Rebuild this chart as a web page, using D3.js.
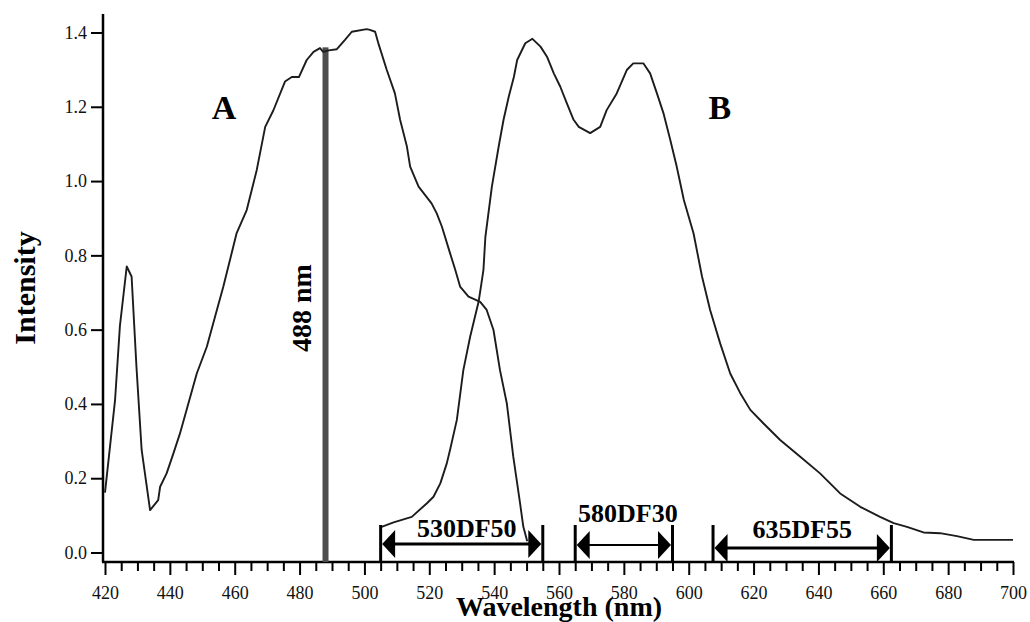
<!DOCTYPE html>
<html>
<head>
<meta charset="utf-8">
<script src="https://cdn.jsdelivr.net/npm/d3@7"></script>
<style>
  body { margin: 0; background: #fff; }
  svg { display: block; font-family: "Liberation Serif", "Times New Roman", serif; }
</style>
</head>
<body>
<div id="wrapper"></div>
<script>
// excitation spectrum (curve A)
const excitationWavelength = [420, 423.1, 424.6, 426.7, 428.2, 429.7, 431.3, 433.9, 436.4, 437, 439, 441.1, 443.1, 448.3, 451.4, 454.5, 456.5, 460.6, 463.7, 466.8, 469.4, 471.9, 475.5, 477.6, 479.8, 482.2, 484.3, 486.3, 487.3, 489, 491.5, 494, 496.1, 500.7, 501.7, 503.3, 504.4, 506.9, 509.4, 511, 513.1, 514.1, 516.7, 520.7, 522.3, 523.9, 526.4, 528, 529.5, 532.1, 535.7, 537.7, 539.8, 541.8, 543.9, 545.9, 548, 549, 550.2]
const excitationIntensity = [0.161, 0.41, 0.61, 0.77, 0.743, 0.5, 0.276, 0.114, 0.141, 0.177, 0.213, 0.267, 0.32, 0.482, 0.554, 0.653, 0.716, 0.86, 0.922, 1.03, 1.146, 1.19, 1.268, 1.28, 1.28, 1.326, 1.348, 1.358, 1.348, 1.352, 1.355, 1.38, 1.402, 1.409, 1.407, 1.402, 1.368, 1.299, 1.236, 1.165, 1.093, 1.039, 0.985, 0.94, 0.913, 0.877, 0.806, 0.761, 0.716, 0.689, 0.675, 0.653, 0.599, 0.491, 0.402, 0.258, 0.132, 0.069, 0.03]

// emission spectrum (curve B)
const emissionWavelength = [505.3, 509, 514.6, 519.2, 521.3, 523.4, 525.4, 526.5, 528.5, 530.5, 532.6, 535.2, 536, 536.7, 537.3, 539.3, 541.4, 542.9, 544.5, 546.1, 547.1, 549.6, 551.8, 554.3, 556.3, 558.4, 560.4, 562.4, 564.5, 566.1, 569.6, 572.7, 574.7, 577.8, 580.9, 582.9, 586, 588.1, 590.2, 592.2, 594.3, 596.3, 597.4, 598.5, 601.5, 604.1, 606.6, 609.7, 612.8, 615.9, 619, 623, 628.2, 634.4, 640.5, 646.7, 652.9, 659, 663.2, 667.3, 672.4, 677.5, 682.7, 687.9, 700]
const emissionIntensity = [0.069, 0.081, 0.096, 0.132, 0.15, 0.186, 0.24, 0.28, 0.357, 0.491, 0.581, 0.675, 0.72, 0.761, 0.85, 0.985, 1.093, 1.165, 1.227, 1.281, 1.326, 1.371, 1.383, 1.362, 1.335, 1.29, 1.254, 1.21, 1.165, 1.146, 1.129, 1.146, 1.191, 1.236, 1.299, 1.317, 1.317, 1.29, 1.236, 1.183, 1.111, 1.039, 0.994, 0.949, 0.859, 0.743, 0.653, 0.563, 0.482, 0.429, 0.384, 0.348, 0.303, 0.258, 0.213, 0.159, 0.123, 0.096, 0.079, 0.069, 0.054, 0.052, 0.044, 0.034, 0.034]

// laser line + filter bands
const laserWavelength = 488
const laserIntensity = 1.36
const laserLabel = "488 nm"
const filterNames = ["530DF50", "580DF30", "635DF55"]
const filterCenters = [530, 580, 635]
const filterWidths = [50, 30, 55]

// axis ticks
const xMajorTicks = [420, 440, 460, 480, 500, 520, 540, 560, 580, 600, 620, 640, 660, 680, 700]
const yTicks = [0.0, 0.2, 0.4, 0.6, 0.8, 1.0, 1.2, 1.4]

function drawChart(){

    // 1. data
    const excitation = excitationWavelength.map((w, i) => ({ w: w, v: excitationIntensity[i] }))
    const emission = emissionWavelength.map((w, i) => ({ w: w, v: emissionIntensity[i] }))
    const xMinorTicks = d3.range(420, 701, 5).filter(t => t % 20 != 0)

    const xAccessor = d => d.w
    const yAccessor = d => d.v

    // 2. dimensions
    let dimensions = {
        width: 1030,
        height: 622,
        margin: { top: 32.5, right: 17, bottom: 69.5, left: 105 },
    }
    dimensions.boundedWidth = dimensions.width - dimensions.margin.left - dimensions.margin.right
    dimensions.boundedHeight = dimensions.height - dimensions.margin.top - dimensions.margin.bottom
    const axisY = dimensions.boundedHeight + 9.5   // x axis sits a bit under zero
    const axisX = -2

    // 3. canvas
    const wrapper = d3.select("#wrapper")
      .append("svg")
        .attr("width", dimensions.width)
        .attr("height", dimensions.height)

    const bounds = wrapper.append("g")
        .attr("transform", `translate(${dimensions.margin.left},${dimensions.margin.top})`)

    // 4. scales
    const xScale = d3.scaleLinear()
        .domain([420, 700])
        .range([0, dimensions.boundedWidth])

    const yScale = d3.scaleLinear()
        .domain([0, 1.4])
        .range([dimensions.boundedHeight, 0])

    // 5. axes
    bounds.append("g")
        .attr("transform", `translate(0,${axisY})`)
        .call(d3.axisBottom(xScale).tickValues(xMinorTicks).tickSize(9).tickFormat(""))
    bounds.append("g")
        .attr("transform", `translate(0,${axisY})`)
        .call(d3.axisBottom(xScale).tickValues(xMajorTicks).tickSize(13).tickPadding(11).tickFormat(d3.format("d")))
    bounds.append("g")
        .attr("transform", `translate(${axisX},0)`)
        .call(d3.axisLeft(yScale).tickValues(yTicks).tickSize(12).tickPadding(4).tickFormat(d3.format(".1f")))

    bounds.selectAll(".domain").remove()
    bounds.selectAll(".tick line").attr("stroke", "#000").attr("stroke-width", 2)
    bounds.selectAll(".tick text")
        .attr("fill", "#111")
        .style("font-family", "'Liberation Serif', serif")
        .style("font-size", "18px")

    // axis lines
    bounds.append("line")
        .attr("x1", axisX - 1).attr("x2", xScale(700) + 1)
        .attr("y1", axisY).attr("y2", axisY)
        .attr("stroke", "#000").attr("stroke-width", 2.5)
    bounds.append("line")
        .attr("x1", axisX).attr("x2", axisX)
        .attr("y1", -18.5).attr("y2", axisY)
        .attr("stroke", "#000").attr("stroke-width", 2.5)

    // 6. laser line
    bounds.append("rect")
        .attr("x", xScale(laserWavelength) - 3)
        .attr("y", yScale(laserIntensity))
        .attr("width", 6)
        .attr("height", axisY - yScale(laserIntensity))
        .attr("fill", "#4d4d4d")

    // 7. spectra
    const lineGenerator = d3.line()
        .x(d => xScale(xAccessor(d)))
        .y(d => yScale(yAccessor(d)))

    for (const series of [excitation, emission]) {
        bounds.append("path")
            .attr("d", lineGenerator(series))
            .attr("fill", "none")
            .attr("stroke", "#1c1c1c")
            .attr("stroke-width", 1.9)
            .attr("stroke-linejoin", "round")
    }

    // 8. filter bands (bar |<----->| with label)
    const arrowOffset = [18, 17, 14]
    const labelOffset = [25, 40, 24]
    const labelShift = [5, 4, 0]
    const lineWidth = [3, 2, 3]
    const headW = 13, headH = 14

    filterNames.forEach((name, i) => {
        const x0 = xScale(filterCenters[i] - filterWidths[i] / 2)
        const x1 = xScale(filterCenters[i] + filterWidths[i] / 2)
        const ya = axisY - arrowOffset[i]
        const g = bounds.append("g")

        g.selectAll("line.edge")
            .data([x0, x1])
            .enter().append("line")
              .attr("class", "edge")
              .attr("x1", d => d).attr("x2", d => d)
              .attr("y1", axisY - 37)
              .attr("y2", axisY)
              .attr("stroke", "#000").attr("stroke-width", 3)

        g.append("line")
            .attr("x1", x0 + headW).attr("x2", x1 - headW)
            .attr("y1", ya).attr("y2", ya)
            .attr("stroke", "#000").attr("stroke-width", lineWidth[i])

        g.append("path")
            .attr("d", `M${x0 + 1.5},${ya} L${x0 + 1.5 + headW},${ya - headH} L${x0 + 1.5 + headW},${ya + headH} Z`)
            .attr("fill", "#000")
        g.append("path")
            .attr("d", `M${x1 - 1.5},${ya} L${x1 - 1.5 - headW},${ya - headH} L${x1 - 1.5 - headW},${ya + headH} Z`)
            .attr("fill", "#000")

        g.append("text")
            .attr("x", xScale(filterCenters[i]) + labelShift[i])
            .attr("y", axisY - labelOffset[i])
            .attr("text-anchor", "middle")
            .style("font-weight", "bold")
            .style("font-size", "26px")
            .text(name)
    })

    // 9. labels
    bounds.append("text")
        .attr("x", xScale(456.7))
        .attr("y", yScale(1.167))
        .attr("text-anchor", "middle")
        .style("font-weight", "bold")
        .style("font-size", "34px")
        .text("A")

    bounds.append("text")
        .attr("x", xScale(609.6))
        .attr("y", yScale(1.167))
        .attr("text-anchor", "middle")
        .style("font-weight", "bold")
        .style("font-size", "34px")
        .text("B")

    bounds.append("text")
        .attr("transform", `translate(${xScale(483.5)},${yScale(0.658)}) rotate(-90)`)
        .attr("text-anchor", "middle")
        .style("font-weight", "bold")
        .style("font-size", "28px")
        .text(laserLabel)

    wrapper.append("text")
        .attr("x", dimensions.margin.left + dimensions.boundedWidth / 2)
        .attr("y", 616)
        .attr("text-anchor", "middle")
        .style("font-weight", "bold")
        .style("font-size", "28px")
        .text("Wavelength (nm)")

    wrapper.append("text")
        .attr("transform", `translate(35,288) rotate(-90)`)
        .attr("text-anchor", "middle")
        .style("font-weight", "bold")
        .style("font-size", "30px")
        .text("Intensity")
}

drawChart()
</script>
</body>
</html>
